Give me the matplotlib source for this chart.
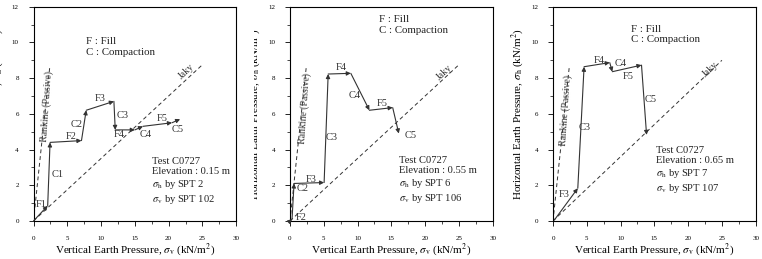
import numpy as np
import matplotlib
matplotlib.use("Agg")
import matplotlib.pyplot as plt
from matplotlib.transforms import Bbox, TransformedBbox

plt.rcParams['font.family'] = ['Liberation Serif', 'DejaVu Serif']
plt.rcParams['mathtext.fontset'] = 'stix'

# stress paths (sigma_v, sigma_h) in kN/m2
p1_sv = [0, 2.1, 2.45, 7.1, 7.8, 11.9, 12.1, 15.0, 16.2, 20.5, 21.7]
p1_sh = [0, 0.85, 4.4, 4.5, 6.2, 6.7, 5.1, 5.1, 5.3, 5.5, 5.7]
p1_steps = ["F1", "C1", "F2", "C2", "F3", "C3", "F4", "C4", "F5", "C5"]

p2_sv = [0, 0.3, 0.6, 5.05, 5.65, 9.0, 11.75, 15.2, 16.1]
p2_sh = [0, 0.1, 2.1, 2.15, 8.23, 8.27, 6.2, 6.35, 4.9]
p2_steps = ["F2", "C2", "F3", "C3", "F4", "C4", "F5", "C5"]

p3_sv = [0.2, 3.67, 4.6, 8.4, 8.77, 13.1, 13.85]
p3_sh = [0.05, 1.83, 8.64, 8.87, 8.36, 8.73, 4.82]
p3_steps = ["F3", "C3", "F4", "C4", "F5", "C5"]

elevations = ["0.15", "0.55", "0.65"]
spt_h = [2, 6, 7]
spt_v = [102, 106, 107]

jaky_sv = [0, 25]
jaky_sh = [[0, 8.75], [0, 8.75], [0, 9.0]]
rank_sv = [0, 2.4]
rank_sh = [0, 8.6]

# where the step names sit
p1_lab = [(1.2, 0.9), (3.5, 2.6), (5.6, 4.75), (6.4, 5.4), (9.8, 6.85), (13.2, 5.9),
          (12.7, 4.85), (16.6, 4.85), (19.0, 5.75), (21.3, 5.15)]
p2_lab = [(1.6, 0.2), (1.8, 1.8), (3.2, 2.3), (6.2, 4.7), (7.6, 8.6), (9.6, 7.0),
          (13.6, 6.6), (17.8, 4.8)]
p3_lab = [(1.7, 1.5), (4.7, 5.25), (6.9, 9.0), (10.0, 8.8), (11.2, 8.1), (14.5, 6.8)]

panels = [
    (p1_sv, p1_sh, p1_steps, p1_lab, (7.8, 10.3), (17.5, 3.6), (22.6, 8.35), (2.0, 6.4)),
    (p2_sv, p2_sh, p2_steps, p2_lab, (13.2, 11.55), (16.2, 3.65), (22.8, 8.3), (2.1, 6.3)),
    (p3_sv, p3_sh, p3_steps, p3_lab, (11.5, 11.0), (15.3, 4.2), (23.3, 8.5), (1.95, 6.2)),
]

fig = plt.figure(figsize=(7.62, 2.59), dpi=100)
lefts = [33.5 / 762, 290 / 762, 553 / 762]

for i, (sv, sh, steps, labs, legpos, testpos, jpos, rpos) in enumerate(panels):
    ax = fig.add_axes([lefts[i], 0.147, 0.266, 0.827])
    ax.set_xlim(0, 30)
    ax.set_ylim(0, 12)
    ax.set_xticks(np.arange(0, 31, 5))
    ax.set_xticks(np.arange(0, 31, 2.5), minor=True)
    ax.set_yticks(np.arange(0, 13, 2))
    ax.set_yticks(np.arange(0, 13, 1), minor=True)
    ax.tick_params(which='major', labelsize=5, length=3.5, width=0.6)
    ax.tick_params(axis='x', which='major', pad=7)
    ax.tick_params(axis='y', which='major', pad=7)
    ax.tick_params(which='minor', length=2.5, width=0.5)
    for s in ax.spines.values():
        s.set_linewidth(0.8)

    ax.plot(jaky_sv, jaky_sh[i], ls=(0, (4, 3)), color='#333333', lw=0.7)
    ax.plot(rank_sv, rank_sh, ls=(0, (4, 3)), color='#333333', lw=0.7)
    ax.text(jpos[0], jpos[1], "Jaky", fontsize=7, rotation=43, ha='center', va='center',
            color='#333333')
    ax.text(rpos[0], rpos[1], "Rankine (Passive)", fontsize=7, rotation=86, ha='center',
            va='center', color='#333333')

    for k in range(len(sv) - 1):
        ax.annotate("", xy=(sv[k + 1], sh[k + 1]), xytext=(sv[k], sh[k]),
                    arrowprops=dict(arrowstyle='-|>', color='#333333', lw=0.8,
                                    mutation_scale=6, shrinkA=0, shrinkB=0))
    for name, (lx, ly) in zip(steps, labs):
        ax.text(lx, ly, name, fontsize=7.5, ha='center', va='center', color='#333333')

    ax.text(legpos[0], legpos[1], "F : Fill\nC : Compaction", fontsize=7.8,
            linespacing=1.25, va='top', ha='left', color='#222222')
    ax.text(testpos[0], testpos[1],
            "Test C0727\nElevation : %s m\n$\\sigma_\\mathrm{h}$ by SPT %d\n$\\sigma_\\mathrm{v}$ by SPT %d"
            % (elevations[i], spt_h[i], spt_v[i]),
            fontsize=7.6, linespacing=1.2, va='top', ha='left', color='#222222')

    ax.set_xlabel("Vertical Earth Pressure, $\\sigma_\\mathrm{v}$ (kN/m$^2$)", fontsize=8, labelpad=1)
    ax.set_ylabel("Horizontal Earth Pressure, $\\sigma_\\mathrm{h}$ (kN/m$^2$)", fontsize=8, labelpad=4)
    if i == 1:
        # the middle panel's label is cut by the first panel's image
        clip = TransformedBbox(Bbox([[254 / 762, 0], [1, 1]]), fig.transFigure)
        ax.yaxis.label.set_clip_box(clip)
        ax.yaxis.label.set_clip_on(True)

fig.savefig("out.png", dpi=100)
